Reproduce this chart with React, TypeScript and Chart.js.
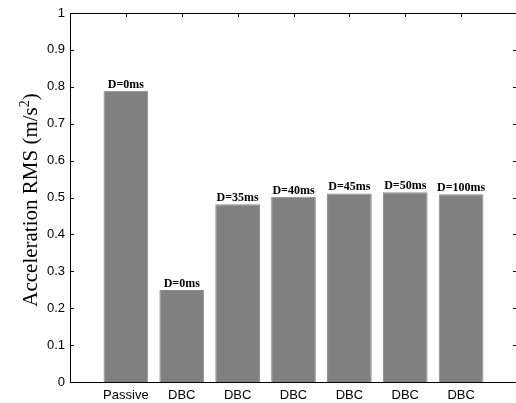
import React, { useEffect, useRef } from "react";
import { Chart, registerables } from "chart.js";

Chart.register(...registerables);

const categories = ["Passive", "DBC", "DBC", "DBC", "DBC", "DBC", "DBC"];
const delayLabels = ["D=0ms", "D=0ms", "D=35ms", "D=40ms", "D=45ms", "D=50ms", "D=100ms"];
const rmsValues = [0.789, 0.249, 0.482, 0.502, 0.511, 0.514, 0.509];
const yTickValues = [0, 0.1, 0.2, 0.3, 0.4, 0.5, 0.6, 0.7, 0.8, 0.9, 1];

const framePlugin = {
  id: "matlabFrame",
  afterDraw(chart: any) {
    const ctx = chart.ctx;
    const xs = chart.scales.x;
    const ys = chart.scales.y;
    const L = Math.round(xs.getPixelForValue(0));
    const R = Math.round(xs.getPixelForValue(8));
    const T = Math.round(ys.getPixelForValue(1));
    const B = Math.round(ys.getPixelForValue(0));
    ctx.save();
    ctx.fillStyle = "rgb(0,0,0)";
    ctx.fillRect(L, T, R - L + 1, 1);
    ctx.fillRect(L, B, R - L + 1, 1);
    ctx.fillRect(L, T, 1, B - T + 1);
    const tl = 4;
    for (let i = 1; i <= categories.length; i++) {
      const px = Math.round(xs.getPixelForValue(i));
      ctx.fillRect(px, T, 1, tl);
    }
    for (const v of yTickValues) {
      const py = Math.round(ys.getPixelForValue(v));
      ctx.fillRect(L, py, tl, 1);
      ctx.fillRect(R - tl, py, tl, 1);
    }
    ctx.font = "bold 12px 'Liberation Serif', 'Times New Roman', serif";
    ctx.textAlign = "center";
    ctx.textBaseline = "alphabetic";
    for (let i = 0; i < rmsValues.length; i++) {
      const px = xs.getPixelForValue(i + 1);
      const py = ys.getPixelForValue(rmsValues[i]);
      ctx.fillText(delayLabels[i], px, py - 3);
    }
    ctx.translate(37, 200);
    ctx.rotate(-Math.PI / 2);
    const mainFont = "21px 'Liberation Serif', 'Times New Roman', serif";
    const supFont = "14px 'Liberation Serif', 'Times New Roman', serif";
    const p1 = "Acceleration RMS (m/s";
    const p2 = "2";
    const p3 = ")";
    ctx.font = mainFont;
    const w1 = ctx.measureText(p1).width;
    const w3 = ctx.measureText(p3).width;
    ctx.font = supFont;
    const w2 = ctx.measureText(p2).width;
    let x0 = -(w1 + w2 + w3) / 2;
    ctx.textAlign = "left";
    ctx.font = mainFont;
    ctx.fillText(p1, x0, 0);
    x0 += w1;
    ctx.font = supFont;
    ctx.fillText(p2, x0, -8);
    x0 += w2;
    ctx.font = mainFont;
    ctx.fillText(p3, x0, 0);
    ctx.restore();
  },
};

export default function App() {
  const ref = useRef<HTMLCanvasElement | null>(null);
  useEffect(() => {
    const canvas = ref.current;
    if (!canvas) return;
    const chart = new Chart(canvas, {
      type: "bar",
      data: {
        datasets: [
          {
            data: rmsValues.map((v, i) => ({ x: i + 1, y: v })),
            backgroundColor: "#808080",
            borderColor: "#8c8c8c",
            borderWidth: 1,
            barPercentage: 0.8,
            categoryPercentage: 1,
          },
        ],
      },
      options: {
        responsive: false,
        animation: false,
        devicePixelRatio: 1,
        layout: { padding: { top: 13, right: 3, left: 0, bottom: 0 } },
        plugins: { legend: { display: false }, tooltip: { enabled: false } },
        scales: {
          x: {
            type: "linear",
            offset: false,
            min: 0,
            max: 8,
            grid: { display: false, drawTicks: false },
            border: { display: true, color: "#000", width: 1 },
            afterFit: (s: any) => {
              s.height = 21;
            },
            afterBuildTicks: (s: any) => {
              s.ticks = categories.map((_, i) => ({ value: i + 1 }));
            },
            ticks: {
              autoSkip: false,
              maxRotation: 0,
              padding: 6,
              color: "#000",
              font: { family: "'Liberation Sans', Arial, sans-serif", size: 13 },
              callback: (v: any) => categories[Number(v) - 1] ?? "",
            },
          },
          y: {
            min: 0,
            max: 1,
            grid: { display: false, drawTicks: false },
            border: { display: true, color: "#000", width: 1 },
            afterFit: (s: any) => {
              s.width = 70;
            },
            afterBuildTicks: (s: any) => {
              s.ticks = yTickValues.map((v) => ({ value: v }));
            },
            ticks: {
              padding: 5,
              color: "#000",
              font: { family: "'Liberation Sans', Arial, sans-serif", size: 13 },
              callback: (v: any) => String(Math.round(Number(v) * 10) / 10),
            },
          },
        },
      },
      plugins: [framePlugin],
    } as any);
    return () => chart.destroy();
  }, []);
  return (
    <div style={{ position: "fixed", left: 0, top: 0, width: 516, height: 403, overflow: "hidden", background: "#fff" }}>
      <canvas ref={ref} width={520} height={403} style={{ width: 520, height: 403, display: "block" }} />
    </div>
  );
}
